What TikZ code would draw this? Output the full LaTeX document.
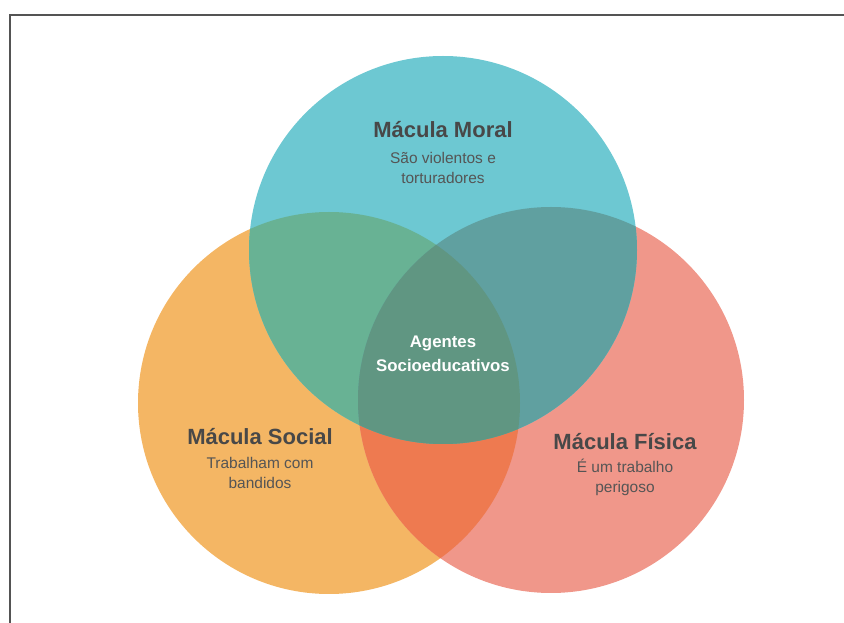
\documentclass[tikz,border=0pt]{standalone}
\usepackage{fontspec}
\setmainfont{Liberation Sans}

\definecolor{tealc}{RGB}{109,200,210}
\definecolor{orangec}{RGB}{244,182,100}
\definecolor{redc}{RGB}{240,151,138}
\definecolor{tealorange}{RGB}{104,178,148}
\definecolor{tealred}{RGB}{96,160,160}
\definecolor{orangered}{RGB}{238,122,80}
\definecolor{centrec}{RGB}{96,150,130}
\definecolor{titlec}{RGB}{72,72,72}
\definecolor{subc}{RGB}{85,85,85}
\definecolor{framec}{RGB}{84,84,84}

\tikzset{every picture/.style={line width=0.75pt}}
\tikzset{
  title/.style={anchor=center,inner sep=0.75pt,font=\fontsize{16.5}{18}\selectfont\bfseries,color=titlec},
  subtitle/.style={anchor=north,inner sep=0.75pt,font=\fontsize{11.6}{15}\selectfont,color=subc,align=center},
  centretext/.style={anchor=center,inner sep=0.75pt,font=\fontsize{12.6}{18}\selectfont\bfseries,color=white,align=center}
}

\begin{document}
\begin{tikzpicture}[x=0.75pt,y=0.75pt,yscale=-1,xscale=1]
\useasboundingbox (0,0) rectangle (844,623);

%Frame
\draw [color=framec,line width=1.5] (10,623) -- (10,15.5) -- (844,15.5) ;

%Shape: Circle (social)
\fill [orangec] (329,403) circle [radius=191] ;
%Shape: Circle (fisica)
\fill [redc] (551,400) circle [radius=193] ;
%Shape: Circle (moral)
\fill [tealc] (443,250) circle [radius=194] ;

%Overlap social / fisica
\begin{scope}
\clip (329,403) circle [radius=191] ;
\fill [orangered] (551,400) circle [radius=193] ;
\end{scope}
%Overlap moral / social
\begin{scope}
\clip (443,250) circle [radius=194] ;
\fill [tealorange] (329,403) circle [radius=191] ;
\end{scope}
%Overlap moral / fisica
\begin{scope}
\clip (443,250) circle [radius=194] ;
\fill [tealred] (551,400) circle [radius=193] ;
\end{scope}
%Overlap of all three
\begin{scope}
\clip (443,250) circle [radius=194] ;
\clip (329,403) circle [radius=191] ;
\fill [centrec] (551,400) circle [radius=193] ;
\end{scope}

% Text Node
\node [title] (moral) at (443,130) {Mácula Moral};
\node [subtitle] (moraltxt) at (443,151) {São violentos e\\torturadores};
% Text Node
\node [title] (social) at (260,437) {Mácula Social};
\node [subtitle] (socialtxt) at (260,456) {Trabalham com\\bandidos};
% Text Node
\node [title] (fisica) at (625,442) {Mácula Física};
\node [subtitle] (fisicatxt) at (625,458) {É um trabalho\\perigoso};
% Text Node
\node [centretext] (agentes) at (443,354) {Agentes\\Socioeducativos};

\end{tikzpicture}
\end{document}
